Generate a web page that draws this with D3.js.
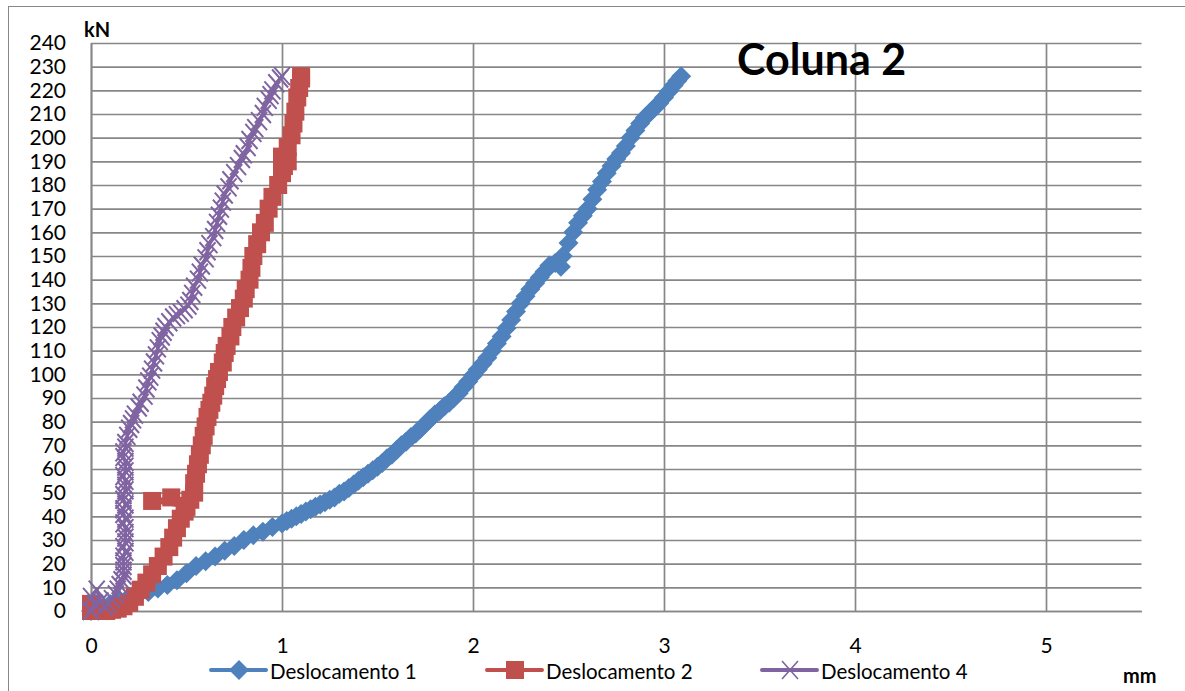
<!doctype html>
<html>
<title>Coluna 2</title>
<head>
    <script src="https://d3js.org/d3.v7.min.js"></script>
    <style>
        body { margin: 0; background: #fff; }
        text { font-family: Lato, Calibri, Carlito, sans-serif; fill: #000; }
    </style>
</head>

<body>
<svg width="1185" height="691"></svg>
<script>
// values: [displacement mm, load kN]
var desloc1 = [
    [0, 0], [0.05, 1.5], [0.1, 3], [0.15, 4.5], [0.2, 6], [0.25, 7], [0.3, 8], [0.35, 9.5],
    [0.4, 11], [0.45, 13], [0.5, 16], [0.55, 19], [0.6, 21], [0.65, 23], [0.7, 25.5], [0.75, 27.5],
    [0.8, 30], [0.85, 32], [0.9, 33.5], [0.95, 35.5], [1.0, 37], [1.025, 38], [1.05, 39], [1.075, 40],
    [1.1, 41], [1.125, 42], [1.15, 43], [1.175, 44], [1.2, 45], [1.225, 46], [1.25, 47], [1.275, 48],
    [1.3, 49.5], [1.325, 50.5], [1.35, 52], [1.375, 53.5], [1.4, 55], [1.425, 56.5], [1.45, 58],
    [1.475, 59.5], [1.5, 61], [1.525, 62.5], [1.55, 64.5], [1.575, 66], [1.6, 68], [1.625, 70],
    [1.65, 71.5], [1.675, 73.5], [1.7, 75], [1.725, 77], [1.75, 79], [1.775, 81], [1.8, 83],
    [1.825, 84.5], [1.85, 86.5], [1.875, 88], [1.9, 90], [1.925, 92], [1.95, 94.5], [1.975, 97],
    [2.0, 99.5], [2.025, 102], [2.05, 104.5], [2.075, 107], [2.1, 110], [2.125, 113], [2.15, 116],
    [2.175, 119.5], [2.2, 123], [2.225, 126.5], [2.25, 130], [2.275, 133], [2.3, 136], [2.325, 138.5],
    [2.35, 141], [2.375, 143.5], [2.4, 146], [2.43, 147], [2.46, 145.5], [2.47, 150], [2.5, 155.5],
    [2.525, 160], [2.55, 164], [2.575, 167], [2.6, 170], [2.625, 174], [2.65, 178], [2.675, 181.5],
    [2.7, 185], [2.725, 188], [2.75, 191], [2.775, 193.5], [2.8, 196.5], [2.825, 200], [2.85, 203],
    [2.875, 206], [2.9, 208.5], [2.925, 210.5], [2.95, 212.5], [2.975, 214.5], [3.0, 217],
    [3.025, 219.5], [3.05, 222], [3.07, 224], [3.09, 226]
]
var desloc2 = [
    [0, 0], [0, 3], [0.02, 1], [0.05, 0], [0.08, 0], [0.11, 0.5], [0.14, 1], [0.17, 2], [0.2, 3.5],
    [0.23, 6], [0.26, 9], [0.29, 12], [0.32, 15.5], [0.35, 19], [0.38, 23], [0.41, 27], [0.43, 31],
    [0.45, 35], [0.47, 39], [0.49, 42], [0.5, 44], [0.32, 46.5], [0.42, 48], [0.52, 47], [0.54, 50],
    [0.54, 54], [0.55, 58], [0.56, 62], [0.57, 66], [0.58, 70], [0.59, 74], [0.6, 78], [0.61, 82],
    [0.62, 85], [0.63, 88], [0.64, 91], [0.65, 95], [0.66, 98], [0.67, 101], [0.69, 105], [0.7, 109],
    [0.71, 112], [0.73, 116], [0.74, 120], [0.76, 124], [0.78, 128], [0.8, 132], [0.81, 136],
    [0.83, 140], [0.84, 145], [0.85, 150], [0.87, 155], [0.89, 160], [0.91, 164], [0.93, 170],
    [0.95, 175], [0.98, 180], [1.0, 185], [1.01, 188], [1.03, 190], [1.0, 192], [1.03, 196],
    [1.05, 201], [1.06, 206], [1.07, 211], [1.08, 217], [1.09, 221], [1.1, 225], [1.1, 226]
]
var desloc4 = [
    [0, 0], [0.02, 3], [0, 6], [0.03, 9], [0.05, 4], [0.07, 2], [0.09, 3], [0.11, 5], [0.13, 7],
    [0.14, 9], [0.15, 11], [0.16, 13], [0.17, 15], [0.17, 17], [0.17, 19], [0.17, 21], [0.17, 23],
    [0.18, 25], [0.17, 27], [0.18, 29], [0.18, 31], [0.18, 33], [0.18, 35], [0.17, 37], [0.18, 39],
    [0.17, 41], [0.17, 43], [0.18, 45], [0.17, 47], [0.17, 49], [0.18, 51], [0.18, 53], [0.18, 55],
    [0.17, 57], [0.18, 59], [0.18, 61], [0.18, 63], [0.17, 65], [0.17, 67], [0.18, 69], [0.18, 71],
    [0.19, 74], [0.2, 77], [0.21, 79], [0.22, 81], [0.23, 83], [0.25, 86], [0.26, 88], [0.28, 91],
    [0.29, 94], [0.3, 97], [0.31, 99], [0.32, 102], [0.33, 105], [0.34, 108], [0.35, 111],
    [0.36, 114], [0.37, 116], [0.38, 118], [0.39, 120], [0.41, 122], [0.43, 124], [0.45, 125],
    [0.47, 126], [0.49, 127.5], [0.51, 129], [0.52, 131], [0.53, 134], [0.54, 137], [0.56, 140],
    [0.57, 143], [0.58, 146], [0.6, 149], [0.61, 152], [0.62, 155], [0.64, 158], [0.65, 161],
    [0.66, 164], [0.67, 167], [0.68, 170], [0.69, 173], [0.7, 176], [0.72, 179], [0.73, 182],
    [0.75, 185], [0.77, 188], [0.79, 191], [0.8, 193], [0.82, 196], [0.83, 199], [0.85, 202],
    [0.86, 204], [0.88, 207], [0.9, 210], [0.91, 213], [0.93, 216], [0.94, 218], [0.95, 220],
    [0.97, 223], [0.99, 225], [1.0, 226]
]
var series_names = ["Deslocamento 1", "Deslocamento 2", "Deslocamento 4"]
var x_ticks = [0, 1, 2, 3, 4, 5]
var y_ticks = d3.range(0, 241, 10)

var colors = ["#4F81BD", "#C0504D", "#8064A2"]
var grid_color = "#878787"

var svg = d3.select("svg")

// outer chart border (right/bottom edges run off the picture)
svg.append("rect")
    .attr("x", 8.5).attr("y", 6.5)
    .attr("width", 1190).attr("height", 700)
    .attr("fill", "none").attr("stroke", grid_color).attr("stroke-width", 1)

var plot_left = 91, plot_right = 1141.5, plot_top = 43, plot_bottom = 611
var x = d3.scaleLinear().domain([0, 5.5]).range([plot_left, plot_right])
var y = d3.scaleLinear().domain([0, 240]).range([plot_bottom, plot_top])

// horizontal grid + y labels
var y_axis = svg.append("g")
    .attr("transform", "translate(" + plot_left + ",0)")
    .call(d3.axisLeft(y).tickValues(y_ticks).tickFormat(d3.format("d"))
        .tickSize(-(plot_right - plot_left)).tickSizeOuter(0).tickPadding(25))
y_axis.selectAll("line").attr("stroke", grid_color).attr("stroke-width", 1.7)
y_axis.select(".domain").attr("stroke", grid_color).attr("stroke-width", 1.7)
y_axis.selectAll("text").attr("font-size", "21px").attr("font-family", "Lato").attr("fill", "#000")

// vertical grid + x labels
var x_axis = svg.append("g")
    .attr("transform", "translate(0," + plot_bottom + ")")
    .call(d3.axisBottom(x).tickValues(x_ticks).tickFormat(d3.format("d"))
        .tickSize(-(plot_bottom - plot_top)).tickSizeOuter(0).tickPadding(27))
x_axis.selectAll("line").attr("stroke", grid_color).attr("stroke-width", 1.7)
x_axis.select(".domain").attr("stroke", grid_color).attr("stroke-width", 1.7)
x_axis.selectAll("text").attr("font-size", "21px").attr("font-family", "Lato").attr("fill", "#000")

// marker shapes: diamond, square, x
function marker(k) {
    if (k === 0) return "M0,-10L10,0L0,10L-10,0Z"
    if (k === 1) return "M-9,-9H9V9H-9Z"
    return "M-8,-9L8,9M-8,9L8,-9"
}

function draw_series(data, k) {
    var g = svg.append("g").attr("class", "series")
    g.append("path")
        .datum(data)
        .attr("fill", "none")
        .attr("stroke", colors[k])
        .attr("stroke-width", 3.5)
        .attr("stroke-linejoin", "round")
        .attr("d", d3.line().x(function (d) { return x(d[0]); }).y(function (d) { return y(d[1]); }))
    g.selectAll(".pt")
        .data(data)
        .enter().append("path")
        .attr("transform", function (d) { return "translate(" + x(d[0]) + "," + y(d[1]) + ")"; })
        .attr("d", marker(k))
        .attr("fill", k === 2 ? "none" : colors[k])
        .attr("stroke", colors[k])
        .attr("stroke-width", k === 2 ? 2 : 0)
}

draw_series(desloc1, 0)
draw_series(desloc2, 1)
draw_series(desloc4, 2)

// titles
svg.append("text")
    .attr("x", 737).attr("y", 75)
    .attr("font-size", "43px").attr("font-weight", "bold")
    .text("Coluna 2")
svg.append("text")
    .attr("x", 84).attr("y", 37)
    .attr("font-size", "20px").attr("font-weight", "bold")
    .text("kN")
svg.append("text")
    .attr("x", 1123).attr("y", 683)
    .attr("font-size", "20px").attr("font-weight", "bold")
    .text("mm")

// legend
var legend_x = [211, 487, 762]
var legend = svg.selectAll(".legend")
    .data(series_names)
    .enter().append("g")
    .attr("class", "legend")
    .attr("transform", function (d, i) { return "translate(" + legend_x[i] + ",670)"; })
legend.append("line")
    .attr("x1", 0).attr("x2", 55).attr("y1", 0).attr("y2", 0)
    .attr("stroke", function (d, i) { return colors[i]; })
    .attr("stroke-width", 4).attr("stroke-linecap", "round")
legend.append("path")
    .attr("transform", "translate(28,0)")
    .attr("d", function (d, i) { return marker(i); })
    .attr("fill", function (d, i) { return i === 2 ? "none" : colors[i]; })
    .attr("stroke", function (d, i) { return colors[i]; })
    .attr("stroke-width", function (d, i) { return i === 2 ? 1.6 : 0; })
legend.append("text")
    .attr("x", 59).attr("y", 9)
    .attr("font-size", "20.5px")
    .text(function (d) { return d; })
</script>
</body>
</html>
